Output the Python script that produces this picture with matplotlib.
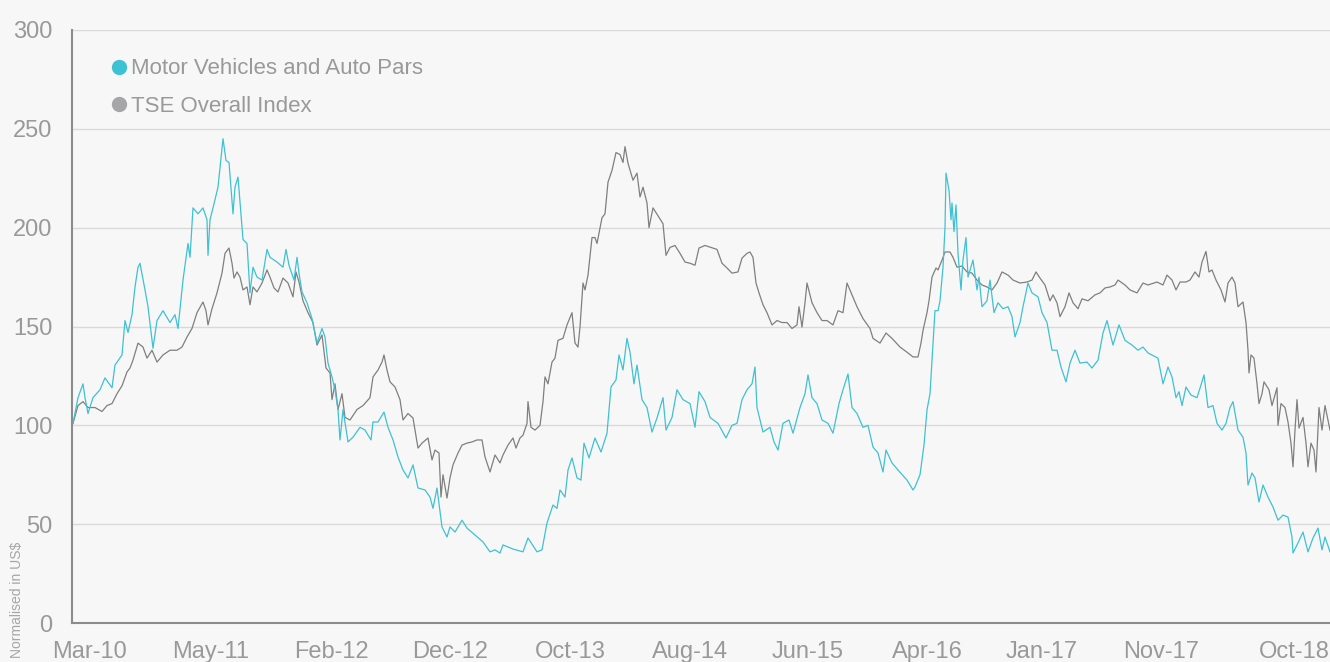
import numpy as np
import matplotlib
matplotlib.use("Agg")
import matplotlib.pyplot as plt
from matplotlib.lines import Line2D

plt.rcParams['font.family'] = ['Liberation Sans', 'DejaVu Sans']

# observation number (shifted so the first point sits on the y axis)
motor_obs = np.array([
    73, 78, 83, 85, 88, 93, 100, 105, 112, 115, 122, 125, 128, 132, 135, 138, 140, 145, 148, 153,
    157, 163, 170, 175, 178, 183, 188, 190, 193, 198, 203, 207, 208, 210, 213, 218, 223, 226, 229, 233,
    235, 238, 243, 247, 250, 253, 257, 262, 267, 270, 277, 283, 286, 289, 294, 297, 299, 302, 307, 312,
    317, 322, 325, 328, 332, 335, 338, 340, 343, 348, 353, 360, 365, 371, 373, 378, 384, 388, 393, 398,
    403, 408, 413, 418, 425, 430, 433, 437, 442, 447, 450, 455, 462, 467, 475, 483, 490, 495, 500, 503,
    513, 523, 528, 537, 542, 547, 553, 557, 560, 565, 568, 572, 577, 581, 584, 589, 595, 601, 607, 611,
    616, 619, 623, 627, 630, 634, 637, 642, 647, 652, 657, 663, 666, 672, 677, 683, 690, 695, 699, 705,
    710, 718, 726, 732, 737, 742, 747, 752, 755, 757, 763, 770, 774, 778, 783, 789, 793, 800, 805, 808,
    812, 817, 822, 828, 833, 839, 843, 848, 852, 857, 863, 868, 873, 878, 883, 886, 892, 898, 907, 913,
    915, 920, 924, 927, 930, 932, 935, 938, 940, 943, 945, 946, 949, 951, 952, 954, 956, 958, 961, 963,
    966, 968, 973, 977, 979, 982, 987, 990, 994, 998, 1003, 1008, 1012, 1015, 1020, 1023, 1028, 1032, 1038, 1042,
    1047, 1052, 1057, 1061, 1066, 1070, 1075, 1080, 1087, 1092, 1098, 1103, 1107, 1110, 1113, 1119, 1125, 1132, 1138, 1143,
    1148, 1158, 1163, 1168, 1172, 1176, 1179, 1182, 1186, 1191, 1197, 1201, 1204, 1208, 1213, 1217, 1222, 1226, 1230, 1233,
    1238, 1243, 1246, 1248, 1252, 1255, 1259, 1263, 1268, 1273, 1278, 1283, 1288, 1292, 1293, 1298, 1303, 1308, 1313, 1318,
    1322, 1325, 1330]) - 72
motor_vals = [
    101, 114, 121, 114, 106, 114, 118, 124, 119, 130.5, 135.6, 153, 147, 156, 170, 180, 182, 168.5, 160, 139,
    153, 158, 152, 156, 149, 173.5, 192, 185, 210, 207, 210, 204, 186, 204, 210, 220.5, 245, 234, 233, 207,
    220.5, 225.6, 194, 192, 167, 180, 175, 173.5, 189, 185, 182.6, 180, 189, 181, 173.5, 185, 177, 167.5, 162, 154,
    141.6, 149, 144.7, 131.5, 124.5, 118, 108, 92.6, 108, 91.6, 94, 99, 97.6, 92.6, 101.7, 101.7, 106.7, 99, 92.6, 84,
    77.4, 73.4, 80, 68.3, 67.3, 63.7, 58, 68.3, 48.6, 43.5, 48.6, 46, 52, 48, 44.5, 41, 36, 37, 35.4, 39.5,
    37.4, 36, 43, 36, 37, 50.6, 59.7, 58, 67.3, 63.7, 77.4, 83.5, 73.4, 72.3, 91, 83.5, 93.6, 86.5, 96, 119.4,
    123, 135.6, 128, 144, 137, 121, 130.5, 113, 109, 96.6, 103.7, 114, 97.6, 104, 118, 113, 111, 99, 117, 112,
    104, 101, 93.6, 100, 101, 113, 118, 121, 129.5, 109, 96.6, 99, 91.6, 87.5, 101, 102.7, 96, 109, 116, 125.5,
    114, 111, 102.7, 101, 96, 111, 118, 126, 109, 106, 99, 100, 89, 86, 76.4, 87.5, 81, 77.4, 72.3, 67.3,
    68.8, 75, 90, 107.8, 116, 133, 158, 158, 163, 180, 200, 227.6, 219, 204, 212.5, 198, 211.5, 187, 168.5, 183.6,
    195, 175, 183.6, 168.5, 175, 160, 163, 173.5, 157, 162, 159, 160, 155, 144.7, 152, 160, 172, 167, 165, 157,
    152, 138, 138, 129.5, 122, 131.5, 138, 131.5, 132, 129, 133, 146.7, 153, 146.7, 140.6, 150.8, 143, 140.6, 138, 139.6,
    136.6, 134, 121, 129.5, 124.5, 114, 117, 110, 119.4, 115.3, 114, 120.4, 125.5, 109, 110, 101, 97.6, 101, 109, 112,
    97.6, 94, 86, 69.8, 75.9, 73.4, 61.2, 69.8, 63.7, 58.7, 52, 54.6, 53.6, 43.5, 35.4, 40.5, 46, 36, 43, 48,
    37, 43.5, 36]

tse_obs = np.array([
    73, 78, 83, 88, 95, 102, 107, 112, 117, 122, 127, 130, 133, 138, 143, 147, 152, 157, 163, 170,
    177, 182, 187, 192, 197, 203, 206, 208, 212, 217, 222, 225, 229, 232, 234, 237, 240, 243, 247, 250,
    253, 257, 262, 267, 270, 274, 278, 283, 288, 293, 296, 299, 303, 308, 313, 317, 322, 326, 330, 332,
    335, 338, 342, 345, 350, 357, 363, 370, 373, 378, 382, 384, 387, 390, 395, 400, 403, 408, 413, 418,
    422, 428, 432, 435, 439, 441, 443, 447, 450, 453, 458, 462, 467, 472, 477, 482, 485, 490, 495, 500,
    503, 508, 513, 516, 520, 523, 527, 528, 531, 535, 540, 543, 545, 548, 552, 555, 558, 563, 567, 572,
    575, 578, 580, 583, 585, 588, 592, 595, 597, 602, 605, 608, 612, 616, 620, 623, 625, 628, 633, 637,
    640, 643, 647, 649, 653, 658, 663, 666, 670, 675, 680, 685, 690, 695, 699, 705, 711, 717, 722, 727,
    732, 738, 742, 747, 750, 753, 756, 759, 763, 767, 772, 777, 782, 787, 792, 797, 799, 802, 805, 807,
    812, 817, 822, 827, 833, 838, 843, 847, 852, 857, 863, 870, 873, 880, 886, 892, 900, 907, 913, 918,
    921, 923, 927, 929, 932, 936, 938, 942, 945, 950, 953, 957, 962, 967, 972, 977, 982, 987, 992, 997,
    1002, 1008, 1013, 1020, 1027, 1032, 1036, 1040, 1045, 1050, 1053, 1057, 1060, 1065, 1069, 1073, 1078, 1082, 1088, 1095,
    1100, 1105, 1110, 1115, 1118, 1125, 1130, 1137, 1143, 1148, 1157, 1163, 1167, 1172, 1176, 1180, 1186, 1190, 1195, 1199,
    1202, 1206, 1209, 1212, 1216, 1221, 1225, 1228, 1232, 1235, 1238, 1243, 1246, 1248, 1249, 1251, 1254, 1257, 1259, 1262,
    1264, 1269, 1272, 1277, 1278, 1281, 1285, 1288, 1291, 1293, 1295, 1297, 1299, 1303, 1306, 1308, 1311, 1314, 1316, 1319,
    1322, 1325, 1330]) - 72
tse_vals = [
    101, 110, 112, 109, 109, 107, 110, 111, 116, 120, 127, 129, 133, 141.6, 139.6, 134, 138, 132, 135.6, 138,
    138, 139.6, 144.7, 149, 157, 162.4, 158, 150.8, 159, 167, 177, 187, 189.7, 182, 174.5, 177.6, 175, 168.5, 170, 161,
    170, 167.5, 172, 178.6, 175, 169.5, 167.5, 174.5, 172, 165, 177.6, 172.5, 163, 157, 152, 140.6, 145.7, 129, 126.5, 113,
    121, 108, 116, 104, 102.7, 108, 110, 114, 124.5, 128, 132, 135.6, 128, 122, 119.4, 113, 102.7, 106, 103.7, 88.5,
    91, 93.6, 82.5, 87.5, 86, 63.7, 75, 63.2, 73.4, 80, 86, 90, 91, 91.6, 92.6, 92.6, 84, 76.4, 85, 81,
    85, 90, 93.6, 88.5, 93.6, 95, 101, 112, 99, 97.6, 100, 112, 124.5, 121, 132, 134, 143, 144, 150.8, 157,
    141.6, 139.6, 149.7, 172, 168.5, 176, 195, 195, 192, 205, 207, 223, 229, 238, 237, 233, 241, 232.6, 224, 227.6,
    215.5, 220.5, 212.5, 200, 210, 206, 202, 186, 190, 191, 187, 182.6, 182, 181, 189.7, 191, 190, 189, 182, 179.6,
    177, 177.6, 184.6, 187, 187.7, 185, 172, 167, 161, 157, 150.8, 153, 152, 152, 149, 150.8, 160, 149.7, 162, 172,
    162, 157, 153, 153, 150.8, 158, 157, 172, 166, 160, 154, 149, 144, 141.6, 146.7, 144, 139.6, 137, 134.6, 134.6,
    141.6, 148, 157, 163, 175, 179.6, 178.6, 183.6, 187.7, 187.7, 185, 180, 180.6, 177.6, 177, 173.5, 171, 170, 168.5, 172,
    177.6, 176, 173.5, 172, 172.5, 173.5, 177.6, 174.5, 171, 163, 166, 162, 155, 160, 167, 162, 159, 164, 163, 166,
    167, 169.5, 170, 171, 173.5, 171, 168.5, 167, 172, 171, 172.5, 171, 176, 173.5, 168.5, 172.5, 172.5, 173.5, 177.6, 175,
    182.6, 188, 177.6, 178.6, 173.5, 168.5, 162.4, 172, 175, 172, 160, 162.4, 152, 138, 126.5, 135.6, 134, 121, 111, 116,
    122, 118, 110, 119, 100, 111, 109, 101.7, 91, 79, 97.6, 113, 98.6, 104, 91, 79, 91, 87.5, 76.4, 109,
    97.6, 110, 97.6]

tick_obs = np.array([90, 211, 331, 450, 570, 690, 808, 927, 1042, 1161, 1294]) - 72
tick_labels = ['Mar-10', 'May-11', 'Feb-12', 'Dec-12', 'Oct-13', 'Aug-14',
               'Jun-15', 'Apr-16', 'Jan-17', 'Nov-17', 'Oct-18']

teal = '#3ec1d3'
grey_line = '#7f7f7f'
text_col = '#999999'
bg = '#f7f7f7'

fig = plt.figure(figsize=(13.3, 6.62), dpi=100, facecolor=bg)
ax = fig.add_axes([72/1330, 39/662, 1258/1330, 593/662], facecolor=bg)

ax.plot(tse_obs, tse_vals, color=grey_line, lw=0.9, zorder=3)
ax.plot(motor_obs, motor_vals, color=teal, lw=0.9, zorder=4)

ax.set_xlim(0, 1258)
ax.set_ylim(0, 300)
ax.set_yticks(np.arange(0, 301, 50))
ax.set_xticks(tick_obs)
ax.set_xticklabels(tick_labels)
ax.yaxis.grid(True, color='#d9d9d9', lw=1.0, zorder=0)
ax.set_axisbelow(True)

for s in ['top', 'right']:
    ax.spines[s].set_visible(False)
for s in ['left', 'bottom']:
    ax.spines[s].set_color('#8c8c8c')
    ax.spines[s].set_linewidth(1.5)
ax.spines['bottom'].set_zorder(5)

ax.tick_params(axis='both', length=0, labelsize=17, labelcolor=text_col)
ax.tick_params(axis='y', pad=14)
ax.tick_params(axis='x', pad=13)

handles = [Line2D([], [], ls='none', marker='o', ms=10, color=teal),
           Line2D([], [], ls='none', marker='o', ms=10, color='#a6a6a8')]
leg = ax.legend(handles, ['Motor Vehicles and Auto Pars', 'TSE Overall Index'],
                loc='upper left', bbox_to_anchor=(0.031, 0.952), frameon=False,
                fontsize=16, handlelength=0.7, handletextpad=0.2,
                labelspacing=0.75, borderpad=0, borderaxespad=0)
for t in leg.get_texts():
    t.set_color(text_col)

fig.text(17/1330, 1 - 600/662, 'Normalised in US\\$', rotation=90, ha='center', va='center',
         fontsize=10, color='#a6a6a6')

fig.savefig('out.png', dpi=100, facecolor=bg)
